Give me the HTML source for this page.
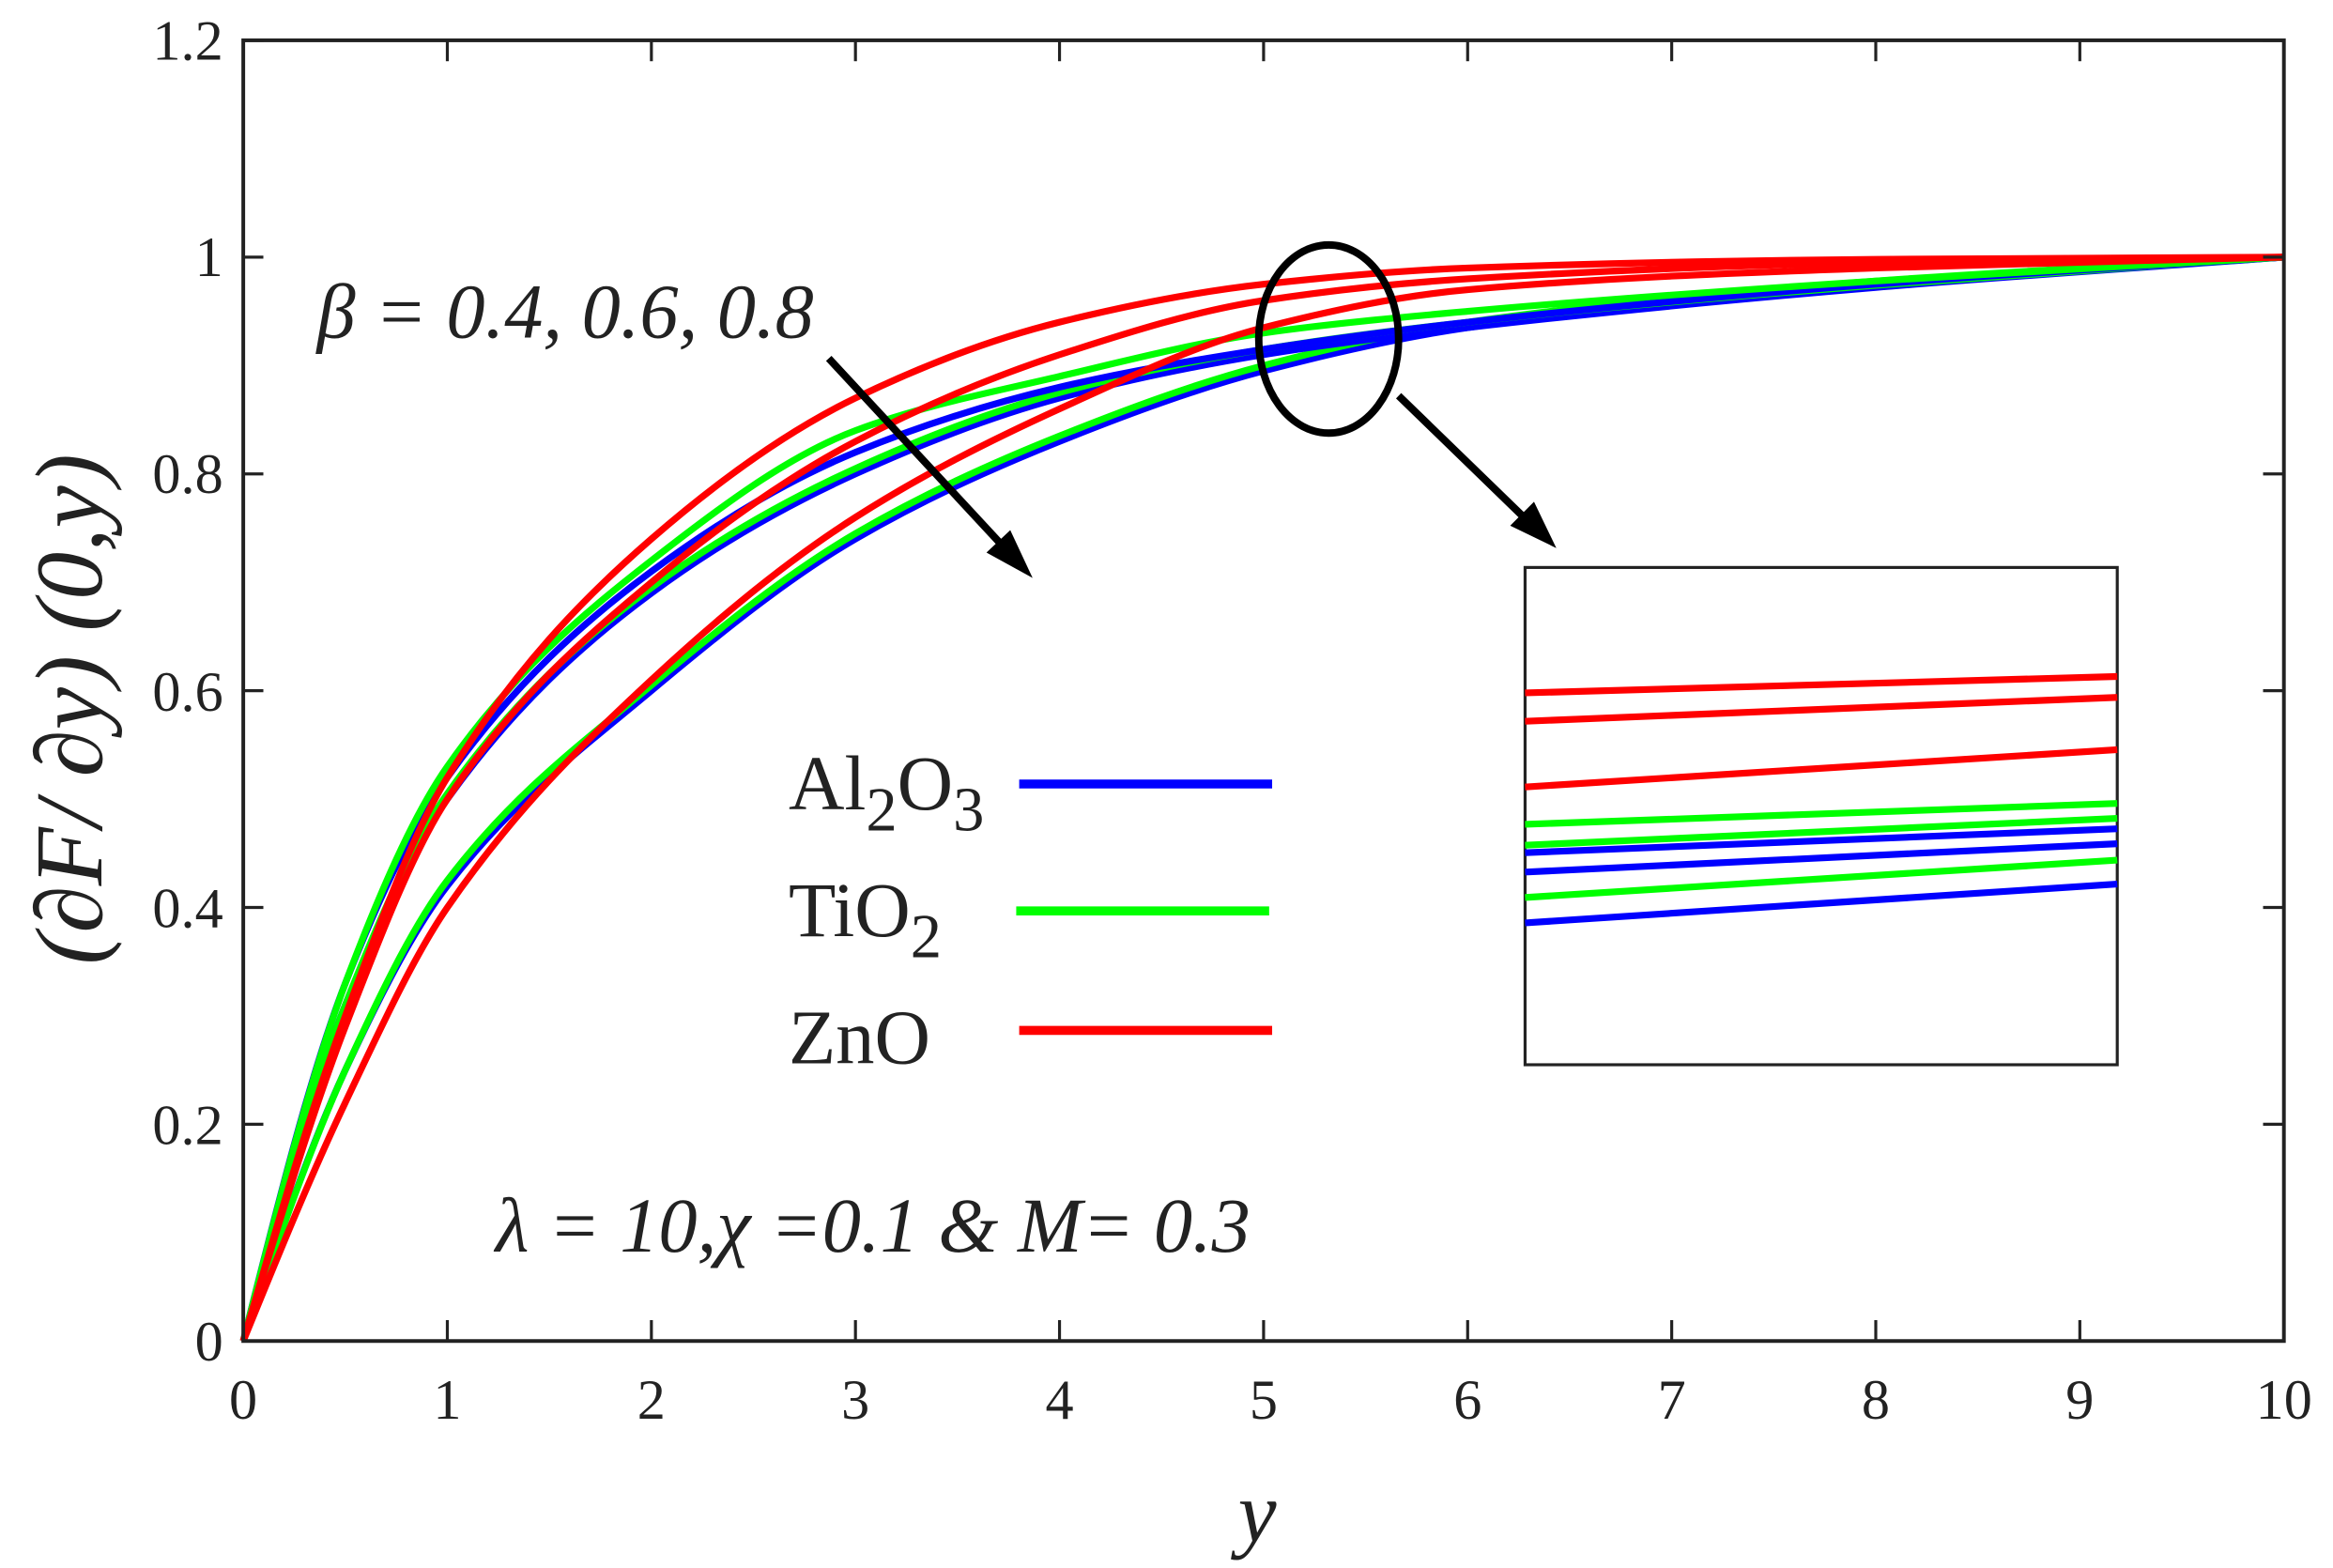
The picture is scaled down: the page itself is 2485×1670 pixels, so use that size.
<!DOCTYPE html>
<html><head><meta charset="utf-8"><style>
html,body{margin:0;padding:0;background:#fff;}
svg{display:block;}
text{font-family:"Liberation Serif",serif;fill:#222;}
</style></head><body>
<svg id="s" width="2485" height="1670" viewBox="0 0 1568 1050" preserveAspectRatio="none" xmlns="http://www.w3.org/2000/svg">
<rect x="0" y="0" width="1568" height="1050" fill="#fff"/>
<g id="curves" fill="none" stroke-width="4.5"></g>
<rect x="163.5" y="27" width="1371.5" height="871" fill="none" stroke="#222" stroke-width="2.5"/>
<g id="ticks" stroke="#222" stroke-width="2"></g>
<g font-size="38" text-anchor="end">
<text x="150" y="911">0</text><text x="150" y="766">0.2</text><text x="150" y="621">0.4</text>
<text x="150" y="476">0.6</text><text x="150" y="330">0.8</text><text x="150" y="185">1</text><text x="150" y="40">1.2</text>
</g>
<g font-size="38" text-anchor="middle" id="xt"></g>
<text x="845" y="1032" font-size="58" font-style="italic" text-anchor="middle">y</text>
<text transform="translate(68,475) rotate(-90)" font-size="64" font-style="italic" text-anchor="middle">(∂F/ ∂y) (0,y)</text>
<text x="213" y="226" font-size="52" font-style="italic">β = 0.4, 0.6, 0.8</text>
<text x="333" y="838" font-size="52" font-style="italic">λ = 10,χ =0.1 &amp; M= 0.3</text>
<g font-size="52">
<text x="530" y="542">Al<tspan font-size="42" dy="14">2</tspan><tspan dy="-14">O</tspan><tspan font-size="42" dy="14">3</tspan></text>
<text x="530" y="627">TiO<tspan font-size="42" dy="14">2</tspan></text>
<text x="530" y="712">ZnO</text>
</g>
<line x1="685" y1="525" x2="855" y2="525" stroke="#0000ff" stroke-width="6"/>
<line x1="683" y1="610" x2="853" y2="610" stroke="#00ff00" stroke-width="6"/>
<line x1="685" y1="690" x2="855" y2="690" stroke="#ff0000" stroke-width="6"/>
<ellipse cx="893" cy="227" rx="47" ry="63" fill="none" stroke="#000" stroke-width="5"/>
<line x1="940" y1="265" x2="1030" y2="352" stroke="#000" stroke-width="5"/>
<polygon points="1046,367 1015,352 1031,336" fill="#000"/>
<line x1="557" y1="240" x2="678" y2="370" stroke="#000" stroke-width="5"/>
<polygon points="694,387 663,370 679,355" fill="#000"/>
<rect x="1025" y="380" width="398" height="333" fill="#fff" stroke="#222" stroke-width="2"/>
<g stroke-width="4.5">
<line x1="1025" y1="464" x2="1423" y2="453" stroke="#ff0000"/>
<line x1="1025" y1="483" x2="1423" y2="467" stroke="#ff0000"/>
<line x1="1025" y1="527" x2="1423" y2="502" stroke="#ff0000"/>
<line x1="1025" y1="552" x2="1423" y2="538" stroke="#00ff00"/>
<line x1="1025" y1="566" x2="1423" y2="548" stroke="#00ff00"/>
<line x1="1025" y1="571" x2="1423" y2="555" stroke="#0000ff"/>
<line x1="1025" y1="584" x2="1423" y2="565" stroke="#0000ff"/>
<line x1="1025" y1="601" x2="1423" y2="576" stroke="#00ff00"/>
<line x1="1025" y1="618" x2="1423" y2="592" stroke="#0000ff"/>
</g>
</svg>
<script>
var X0=163.5,SX=137.15,Y0=898,SY=725.8;
var xs=[0,0.5,1,2,3,4,5,6,8,10];
var C=[
["#0000ff",[0,0.25,0.42,0.60,0.74,0.83,0.895,0.935,0.975,1]],
["#00ff00",[0,0.25,0.425,0.605,0.745,0.835,0.9,0.94,0.978,1]],
["#0000ff",[0,0.31,0.50,0.69,0.80,0.87,0.91,0.935,0.972,1]],
["#00ff00",[0,0.31,0.505,0.695,0.805,0.875,0.915,0.94,0.974,1]],
["#0000ff",[0,0.33,0.52,0.71,0.82,0.88,0.915,0.94,0.975,1]],
["#00ff00",[0,0.33,0.53,0.72,0.84,0.89,0.93,0.95,0.978,1]],
["#ff0000",[0,0.22,0.40,0.61,0.76,0.86,0.935,0.97,0.99,1]],
["#ff0000",[0,0.29,0.50,0.70,0.83,0.91,0.96,0.98,0.995,1]],
["#ff0000",[0,0.30,0.52,0.74,0.87,0.94,0.975,0.99,0.998,1]]
];
function path(v){
var n=xs.length,d=[],m=[];
for(var i=0;i<n-1;i++)d.push((v[i+1]-v[i])/(xs[i+1]-xs[i]));
for(var i=1;i<n-1;i++){var a=d[i-1],b=d[i];
if(a*b<=0){m[i]=0;}else{var h0=xs[i]-xs[i-1],h1=xs[i+1]-xs[i];var w1=2*h1+h0,w2=h1+2*h0;m[i]=(w1+w2)/(w1/a+w2/b);}}
m[0]=Math.max(0,(3*d[0]-m[1])/2);m[n-1]=d[n-2];
var s="M"+(X0)+","+(Y0-v[0]*SY);
for(var i=0;i<n-1;i++){var h=xs[i+1]-xs[i];
var c1x=xs[i]+h/3,c1y=v[i]+m[i]*h/3,c2x=xs[i+1]-h/3,c2y=v[i+1]-m[i+1]*h/3;
s+=" C"+(X0+c1x*SX)+","+(Y0-c1y*SY)+" "+(X0+c2x*SX)+","+(Y0-c2y*SY)+" "+(X0+xs[i+1]*SX)+","+(Y0-v[i+1]*SY);}
return s;}
var g=document.getElementById("curves"),ns="http://www.w3.org/2000/svg";
C.forEach(function(c){var p=document.createElementNS(ns,"path");p.setAttribute("d",path(c[1]));p.setAttribute("stroke",c[0]);g.appendChild(p);});
var t=document.getElementById("ticks"),xt=document.getElementById("xt");
for(var i=0;i<=10;i++){var x=X0+i*SX;
[[x,898,x,884],[x,27,x,41]].forEach(function(a){var l=document.createElementNS(ns,"line");l.setAttribute("x1",a[0]);l.setAttribute("y1",a[1]);l.setAttribute("x2",a[2]);l.setAttribute("y2",a[3]);t.appendChild(l);});
var tx=document.createElementNS(ns,"text");tx.setAttribute("x",x);tx.setAttribute("y",950);tx.textContent=i;xt.appendChild(tx);}
for(var j=0;j<=6;j++){var y=Y0-j*0.2*SY;
[[163.5,y,177,y],[1535,y,1521,y]].forEach(function(a){var l=document.createElementNS(ns,"line");l.setAttribute("x1",a[0]);l.setAttribute("y1",a[1]);l.setAttribute("x2",a[2]);l.setAttribute("y2",a[3]);t.appendChild(l);});}
</script>
</body></html>
